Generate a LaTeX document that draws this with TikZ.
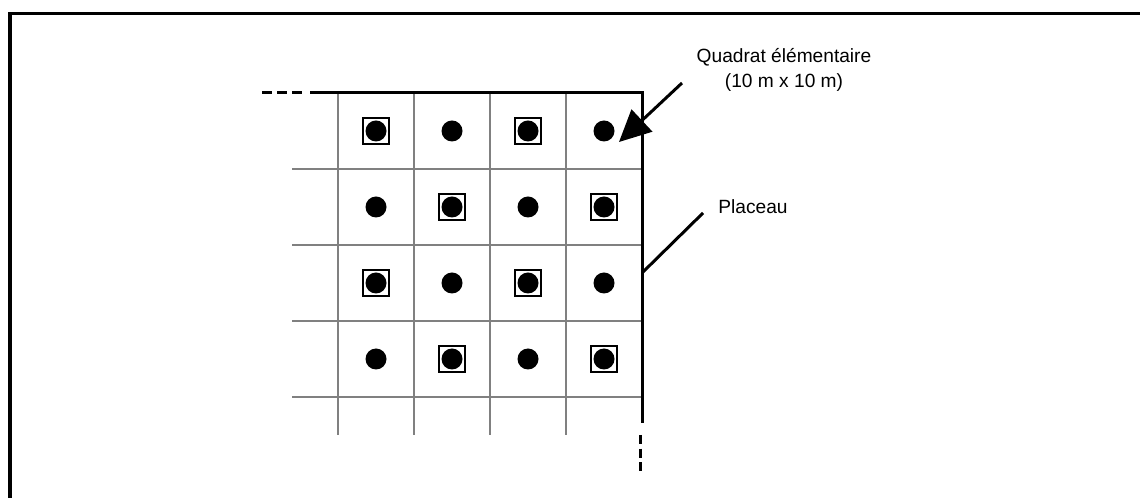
\documentclass[tikz,border=0pt]{standalone}
\usepackage{fontspec}
\setmainfont{Liberation Sans}
\usetikzlibrary{arrows.meta}

\tikzset{
	gridline/.style={line width=1.5pt, color=black!50},
	edgeline/.style={line width=1.7pt, line join=miter},
	squaremark/.style={line width=1.2pt},
	labeltext/.style={inner sep=0pt, font=\fontsize{10.9}{14}\selectfont}
}

\begin{document}
\begin{tikzpicture}
			\useasboundingbox (0, 0) rectangle (22.8, 9.96);
			%%%%% FRAME %%%%%
			\draw[line width=2pt] (0.2, -0.2) -- (0.2, 9.686) -- (23, 9.686);
			
			%%%%% GRID %%%%%
			\foreach \i in {0,...,3}
				\draw[gridline] ({6.76+1.52*\i}, 8.10) -- ({6.76+1.52*\i}, 1.26);
			\foreach \j in {1,...,4}
				\draw[gridline] (5.84, {8.10-1.52*\j}) -- (12.84, {8.10-1.52*\j});
			
			% plot border, open towards the left and the bottom
			\draw[edgeline] (6.20, 8.10) -- (12.84, 8.10) -- (12.84, 1.50);
			\draw[edgeline, dash pattern=on 5.7pt off 2.9pt] (5.24, 8.10) -- (6.04, 8.10);
			\draw[edgeline, dash pattern=on 5.2pt off 2.6pt] (12.80, 1.26) -- (12.80, 0.54);
			
			%%%%% POINTS %%%%%
			\foreach \r in {1,...,4}
				\foreach \c in {1,...,4} {
					\pgfmathtruncatemacro{\odd}{mod(\r+\c,2)}
					\ifnum\odd=0
						\draw[squaremark] ({6.76+1.52*\c-0.76-0.26}, {8.10-1.52*\r+0.76-0.26}) rectangle ++(0.52, 0.52);
					\fi
					\fill ({6.76+1.52*\c-0.76}, {8.10-1.52*\r+0.76}) circle (0.21);
				}
			
			%%%%% LABELS %%%%%
			\node[labeltext, anchor=base] (quadrat) at (15.68, 8.70) {Quadrat élémentaire};
			\node[labeltext, anchor=base] (quadrat-size) at (15.68, 8.20) {(10 m x 10 m)};
			\coordinate (quadrat-tail) at (13.64, 8.30);
			\coordinate (quadrat-tip) at (12.38, 7.12);
			\draw[edgeline, -{Triangle[length=0.63cm, width=0.6cm]}] (quadrat-tail) -- (quadrat-tip);
			
			\node[labeltext, anchor=base west] (placeau) at (14.36, 5.68) {Placeau};
			\coordinate (placeau-foot) at (12.86, 4.52);
			\coordinate (placeau-end) at (14.06, 5.70);
			\draw[edgeline] (placeau-foot) -- (placeau-end);
\end{tikzpicture}
\end{document}
